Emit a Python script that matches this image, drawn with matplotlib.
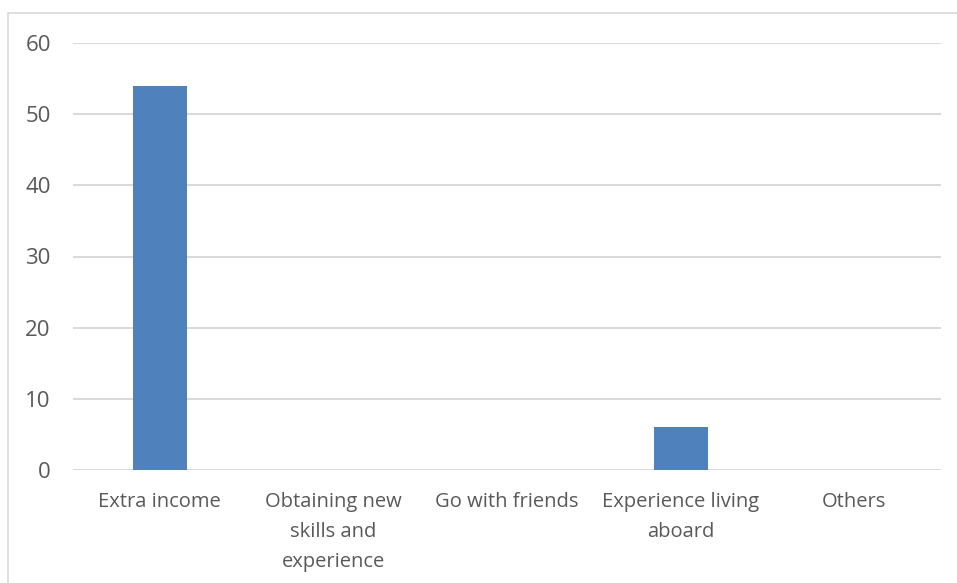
import matplotlib
matplotlib.use("Agg")
import matplotlib.pyplot as plt
from matplotlib.patches import Rectangle

categories = ["Extra income", "Obtaining new\nskills and\nexperience", "Go with friends",
              "Experience living\naboard", "Others"]
values = [54, 0, 0, 6, 0]
y_ticks = [0, 10, 20, 30, 40, 50, 60]

W, H, DPI = 957, 583, 100
fig = plt.figure(figsize=(W / DPI, H / DPI), dpi=DPI)
fig.patch.set_facecolor("white")

# outer chart-area frame
fig.patches.append(Rectangle((8 / W, -0.05), 1.2, 1 - 13 / H + 0.05, transform=fig.transFigure,
                             fill=False, edgecolor="#D9D9D9", linewidth=1.2))

ax = fig.add_axes([73 / W, 1 - 470 / H, (941 - 73) / W, (470 - 43) / H])
x = range(len(categories))
ax.bar(x, values, width=0.31, color="#4F81BD", zorder=3)

ax.set_xlim(-0.5, len(categories) - 0.5)
ax.set_ylim(0, 60)
ax.set_yticks(y_ticks)
ax.set_xticks(list(x))
ax.set_xticklabels(categories, linespacing=1.66, va="top")
ax.yaxis.grid(True, color="#D9D9D9", linewidth=1.4, zorder=0)
for s in ax.spines.values():
    s.set_visible(False)
ax.tick_params(axis="x", length=0, labelsize=14.5, labelcolor="#595959", pad=16)
ax.tick_params(axis="y", length=0, labelsize=16, labelcolor="#595959", pad=16)
for lbl in ax.get_xticklabels() + ax.get_yticklabels():
    lbl.set_fontfamily("Open Sans")

fig.savefig("out.png", dpi=DPI)
